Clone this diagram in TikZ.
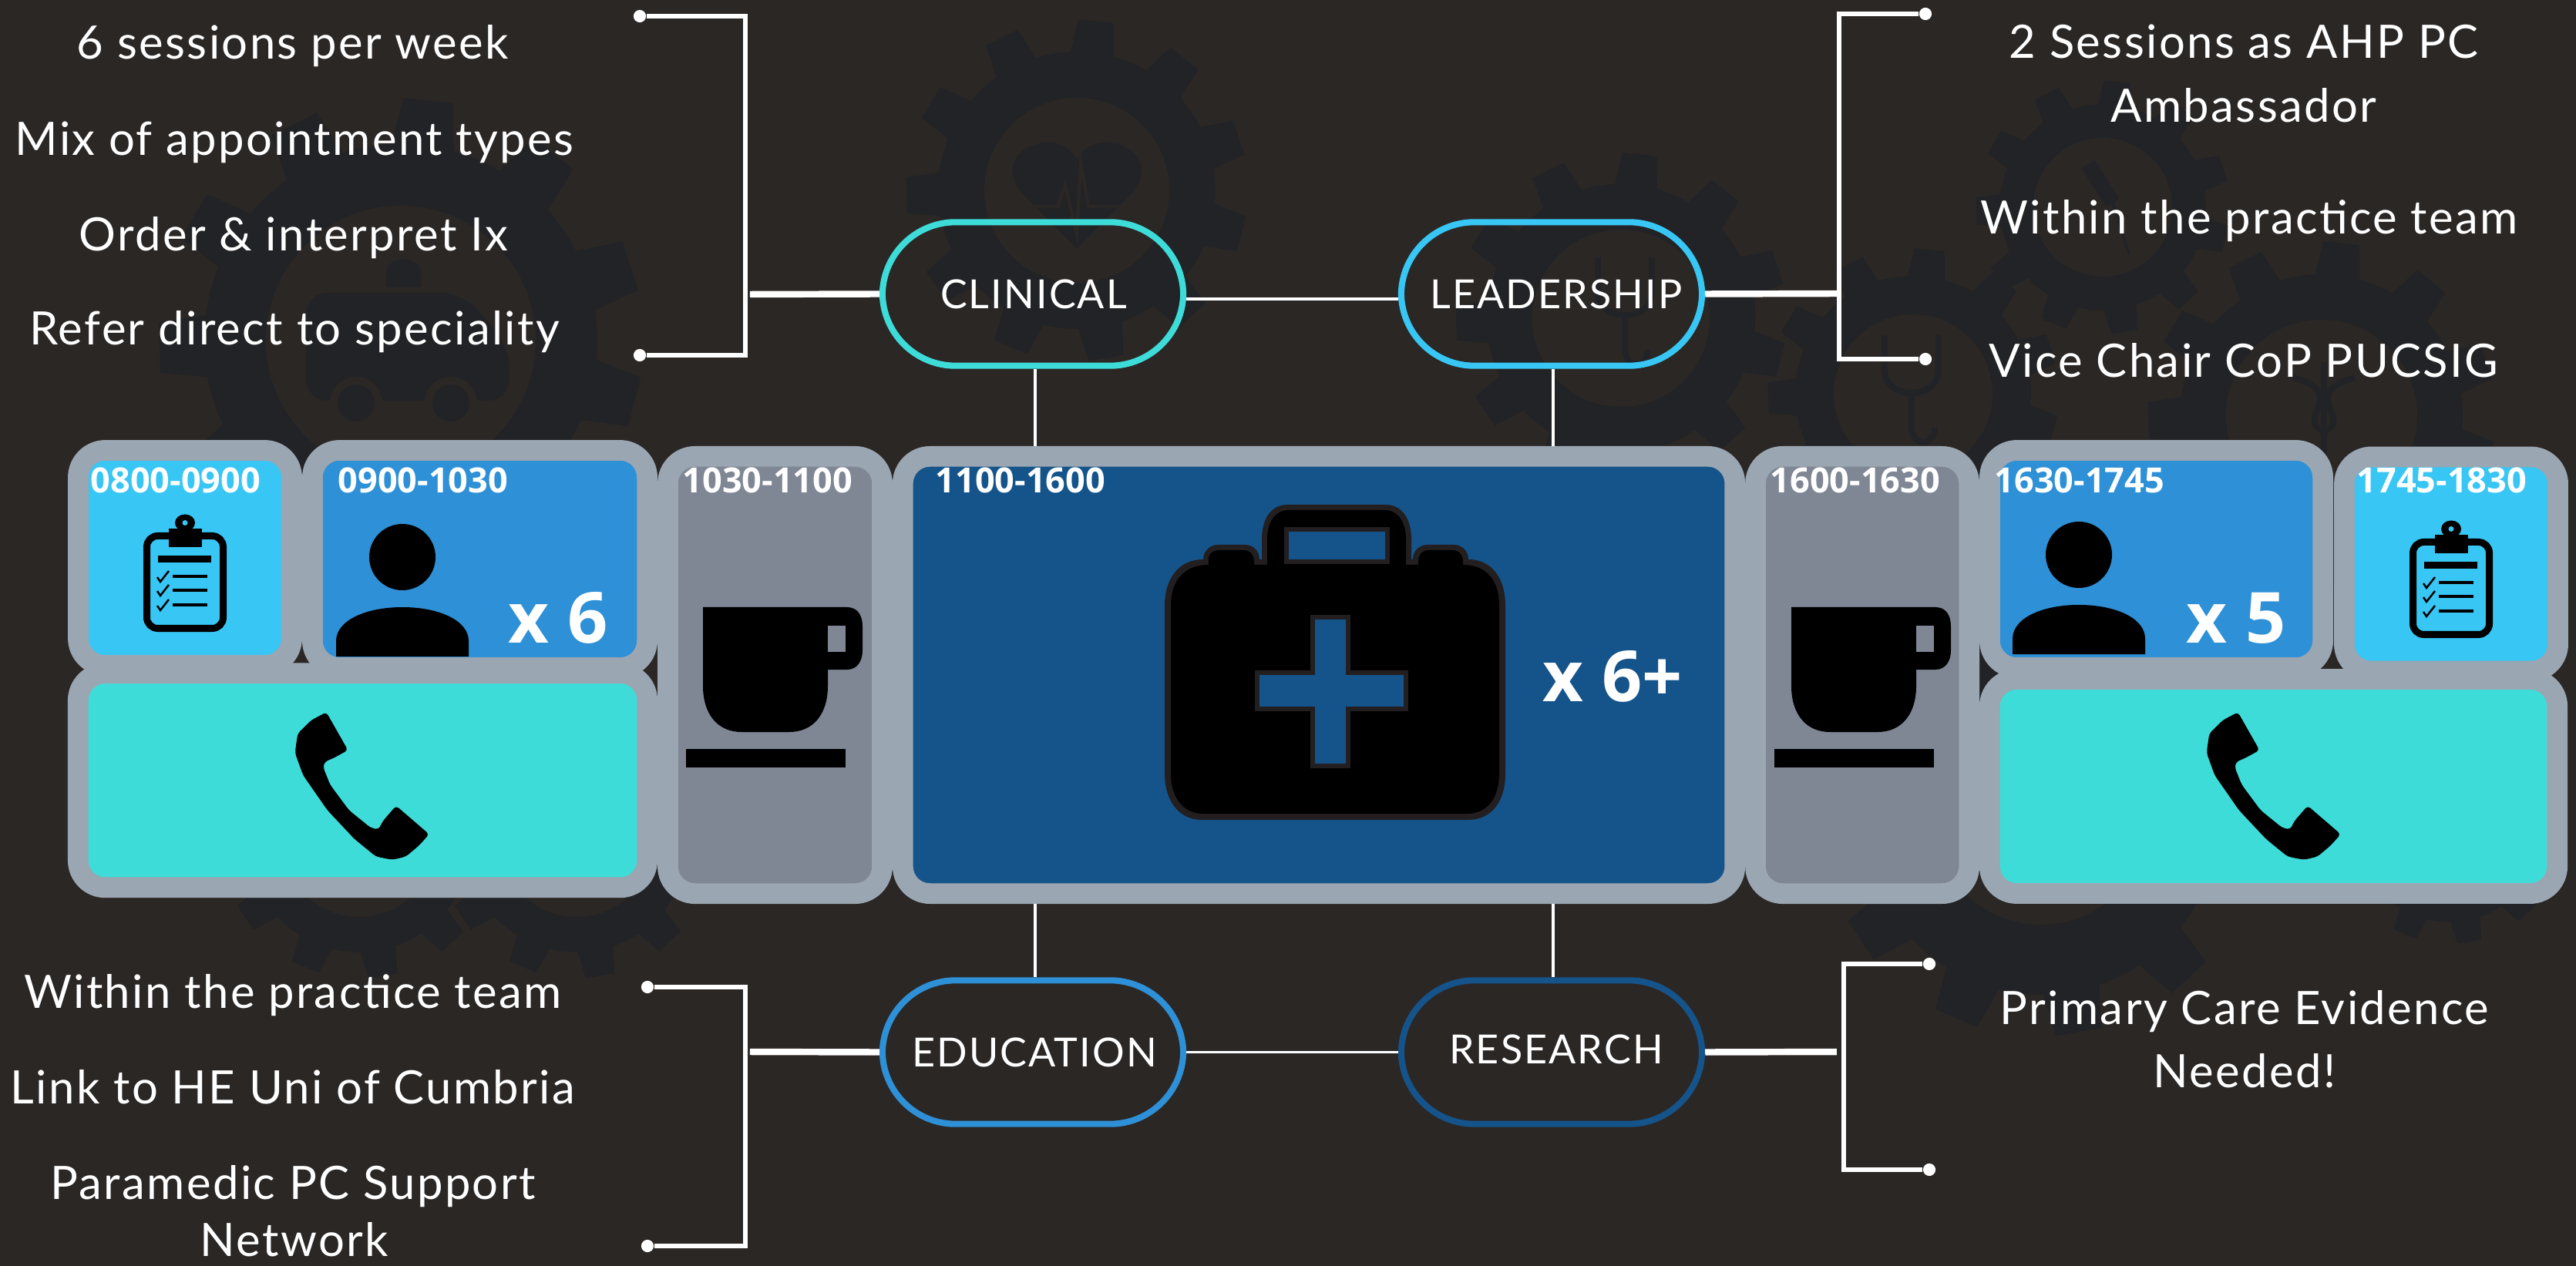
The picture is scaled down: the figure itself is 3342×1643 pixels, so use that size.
\documentclass[tikz,border=0pt]{standalone}
\usepackage{fontspec}
\setmainfont{Lato}
\newfontfamily\timefont{Open Sans}
\newfontfamily\listfont[LetterSpace=4]{Lato}
\usetikzlibrary{positioning}

\definecolor{bgdark}{HTML}{2B2725}
\definecolor{gearshade}{HTML}{222326}
\definecolor{framegrey}{HTML}{9AA6B2}
\definecolor{breakgrey}{HTML}{7F8694}
\definecolor{adminblue}{HTML}{38C6F4}
\definecolor{clinicblue}{HTML}{2E90D6}
\definecolor{phoneteal}{HTML}{3EDCD9}
\definecolor{visitblue}{HTML}{15548A}
\definecolor{caseline}{HTML}{231F20}

\tikzset{
  slot/.style={rectangle, rounded corners=10pt, draw=framegrey, line width=7.6pt, inner sep=0pt},
  pill/.style={rectangle, rounded corners=27pt, line width=2.3pt, minimum width=111pt, minimum height=53pt, inner sep=0pt},
  pilltext/.style={inner sep=0pt, text=white, font=\listfont\fontsize{14.8}{16}\selectfont},
  timelabel/.style={anchor=base west, inner sep=0pt, text=white, font=\timefont\bfseries\fontsize{12.8}{14}\selectfont},
  countlabel/.style={inner sep=0pt, text=white, font=\timefont\bfseries\fontsize{26}{28}\selectfont},
  listitem/.style={anchor=base, inner sep=0pt, text=white, font=\listfont\fontsize{17}{19}\selectfont},
  enddot/.style={circle, fill=white, inner sep=0pt, minimum size=4.6pt},
  bracket/.style={draw=white, line width=1.6pt},
  stub/.style={draw=white, line width=2.4pt},
  tie/.style={draw=white, line width=1.1pt},
  cogmark/.style={draw=gearshade, line width=2.2pt}
}

% background cog: centre, outer radius, hole radius
\newcommand{\cogwheel}[3]{
  \begin{scope}[shift={(#1)}]
    \fill[gearshade] (0,0) circle (0.81*#2);
    \foreach \k [evaluate=\k as \a using \k*32.73-83.5] in {0,...,10}
      \fill[gearshade] (\a-9.5:0.79*#2) -- (\a-6:#2) -- (\a+6:#2) -- (\a+9.5:0.79*#2) -- cycle;
    \fill[bgdark] (0,0) circle (#3);
  \end{scope}
}
\newcommand{\stethmark}[1]{
  \begin{scope}[shift={(#1)}]
    \draw[cogmark] (-35,-60) -- (-35,-15) .. controls (-35,25) and (35,25) .. (35,-15) -- (35,-60);
    \draw[cogmark] (0,15) -- (0,60) .. controls (0,85) and (30,85) .. (30,60);
  \end{scope}
}
\newcommand{\clipicon}[1]{
  \begin{scope}[shift={(#1)}]
    \draw[black, line width=2.56pt, rounded corners=4pt] (4.5,4.5) rectangle (103.5,124.5);
    \fill[black] (54,-12.5) ellipse [x radius=13, y radius=11];
    \fill[adminblue] (54,-12.5) circle (3.5);
    \fill[black] (33,-5) rectangle (76,19);
    \fill[black] (19,30) rectangle (88,39);
    \draw[black, line width=0.9pt] (38,57) -- (83,57);
    \draw[black, line width=0.9pt] (38,75) -- (83,75);
    \draw[black, line width=0.9pt] (38,94) -- (83,94);
    \draw[black, line width=0.7pt] (18,58) -- (22,64) -- (33,50);
    \draw[black, line width=0.7pt] (18,76) -- (22,82) -- (33,68);
    \draw[black, line width=0.7pt] (18,95) -- (22,101) -- (33,87);
  \end{scope}
}
\newcommand{\personicon}[1]{
  \begin{scope}[shift={(#1)}]
    \fill[black] (86,-65) circle (43);
    \fill[black] (0,64) -- (0,44) .. controls (0,17) and (39,0) .. (86,0) .. controls (133,0) and (172,17) .. (172,44) -- (172,64) -- cycle;
  \end{scope}
}
\newcommand{\mugicon}[1]{
  \begin{scope}[shift={(#1)}]
    \fill[black] (0,0) -- (0,102) .. controls (0,140) and (20,162) .. (50,162) -- (112,162) .. controls (142,162) and (162,140) .. (162,102) -- (162,0) -- cycle;
    \fill[black] (162,0) -- (187,0) .. controls (200,0) and (207,10) .. (207,25) -- (207,56) .. controls (207,70) and (200,81) .. (187,81) -- (162,81) -- cycle;
    \fill[breakgrey] (162,24) rectangle (185,58);
    \fill[black] (-22,184) rectangle (185,208);
  \end{scope}
}
\newcommand{\phoneicon}[1]{
  \begin{scope}[shift={(#1)}]
    \fill[black, rounded corners=1.2pt] (0,0) -- (28,49.3) -- (8.4,60) -- (-2.1,64.2) -- (-4.2,71.3) -- (4.9,94.1) -- (29.4,127.2) -- (57.5,150) -- (68,152.1) -- (72.9,141.7) -- (90.5,121.4) -- (133.3,158.3) -- (120.6,172.7) -- (103.1,187.4) -- (85.6,191.5) -- (64.5,187.4) -- (36.5,164.6) -- (1.4,127.2) -- (-30.2,81.7) -- (-40.7,52.7) -- (-37.2,27.7) -- (-19.7,10.4) -- cycle;
  \end{scope}
}

\begin{document}
\begin{tikzpicture}[x=0.01cm, y=-0.01cm]

\fill[bgdark] (0,0) rectangle (3342,1643);
\useasboundingbox (0,0) rectangle (3342,1643);

%Cogs
\cogwheel{1397,247}{222}{120}
\cogwheel{520,442}{315}{175}
\cogwheel{2103,413}{215}{115}
\cogwheel{2728,269}{165}{90}
\cogwheel{2482,511}{189}{103}
\cogwheel{3012,539}{226}{124}
\cogwheel{466,1090}{180}{100}
\cogwheel{748,1090}{180}{100}
\cogwheel{2648,1060}{285}{140}
\cogwheel{3178,1075}{150}{85}

%Cog marks
\fill[gearshade] (1397,323) -- (1325,250) .. controls (1295,210) and (1330,185) .. (1360,185) .. controls (1378,185) and (1392,195) .. (1397,208) .. controls (1402,195) and (1416,185) .. (1434,185) .. controls (1465,185) and (1500,210) .. (1469,250) -- cycle;
\draw[bgdark, line width=1.2pt] (1335,268) -- (1372,268) -- (1382,240) -- (1397,305) -- (1402,210) -- (1412,268) -- (1460,268);
\fill[gearshade, rounded corners=8pt] (397,380) -- (600,380) -- (661,450) -- (661,520) -- (397,520) -- cycle;
\fill[gearshade] (501,373) -- (501,355) .. controls (501,330) and (546,330) .. (546,355) -- (546,373) -- cycle;
\fill[bgdark] (462,523) circle (34);
\fill[gearshade] (462,523) circle (24);
\fill[bgdark] (585,523) circle (34);
\fill[gearshade] (585,523) circle (24);
\draw[gearshade, line width=5.7pt] (2709,213) -- (2741,263);
\draw[gearshade, line width=1pt] (2741,263) -- (2762,330);
\stethmark{2108,394}
\stethmark{2480,495}
\draw[cogmark] (3015,470) -- (3015,610);
\draw[cogmark] (2975,490) .. controls (3050,510) and (2975,545) .. (3015,560) .. controls (3055,545) and (2980,510) .. (3055,490);

%Slots
\node[slot, fill=breakgrey, minimum width=278*0.2845pt, minimum height=567*0.2845pt] (coffeeam) at (1005.5,876) {};
\node[slot, fill=visitblue, minimum width=1079*0.2845pt, minimum height=567*0.2845pt] (visits) [right=0pt of coffeeam] {};
\node[slot, fill=breakgrey, minimum width=277*0.2845pt, minimum height=567*0.2845pt] (coffeepm) [right=0pt of visits] {};
\node[slot, fill=adminblue, minimum width=277*0.2845pt, minimum height=279*0.2845pt] (adminam) at (240,724) {};
\node[slot, fill=clinicblue, minimum width=434*0.2845pt, minimum height=282*0.2845pt] (patientam) at (622.5,725.5) {};
\node[slot, fill=clinicblue, minimum width=432*0.2845pt, minimum height=282*0.2845pt] (patientpm) at (2797.5,725.5) {};
\node[slot, fill=adminblue, minimum width=277*0.2845pt, minimum height=278*0.2845pt] (adminpm) at (3180,732) {};
\node[slot, fill=phoneteal, minimum width=738*0.2845pt, minimum height=278*0.2845pt] (callsam) at (470.5,1012.75) {};
\node[slot, fill=phoneteal, minimum width=736*0.2845pt, minimum height=278*0.2845pt] (callspm) at (2949.5,1020.5) {};

%Times
\node[timelabel] (t0800) at (117,640) {0800-0900};
\node[timelabel] (t0900) at (438,640) {0900-1030};
\node[timelabel] (t1030) at (885,640) {1030-1100};
\node[timelabel] (t1100) at (1213,640) {1100-1600};
\node[timelabel] (t1600) at (2296,640) {1600-1630};
\node[timelabel] (t1630) at (2587,640) {1630-1745};
\node[timelabel] (t1745) at (3057,640) {1745-1830};
\node[countlabel] (countam) at (724,802) {x 6};
\node[countlabel] (countpm) at (2901,802) {x 5};
\node[countlabel] (countvisits) at (2092,878) {x 6+};

%Icons
\clipicon{186,691}
\clipicon{3126,699}
\personicon{436,788}
\personicon{2611,785}
\mugicon{912,788}
\mugicon{2324,788}
\phoneicon{423.4,924.3}
\phoneicon{2903.4,924.3}

%Case
\fill[caseline] (1511,1004) -- (1511,786) .. controls (1511,750) and (1530,726) .. (1561,726) .. controls (1561,715) and (1570,707) .. (1580,707) -- (1615,707) .. controls (1626,707) and (1634,715) .. (1634,726) -- (1637,726) -- (1637,700) .. controls (1637,672) and (1650,655) .. (1670,655) -- (1798,655) .. controls (1818,655) and (1831,672) .. (1831,700) -- (1831,726) -- (1833,726) .. controls (1833,715) and (1841,707) .. (1852,707) -- (1886,707) .. controls (1897,707) and (1905,715) .. (1905,726) .. controls (1935,726) and (1953,750) .. (1953,786) -- (1953,1004) .. controls (1953,1040) and (1935,1064) .. (1905,1064) -- (1559,1064) .. controls (1530,1064) and (1511,1040) .. (1511,1004) -- cycle;
\fill[black] (1519,1004) -- (1519,786) .. controls (1519,755) and (1535,733) .. (1568,733) .. controls (1566,720) and (1572,714) .. (1582,714) -- (1613,714) .. controls (1622,714) and (1628,720) .. (1627,733) -- (1644,733) -- (1644,700) .. controls (1644,678) and (1654,662) .. (1672,662) -- (1796,662) .. controls (1814,662) and (1824,678) .. (1824,700) -- (1824,733) -- (1840,733) .. controls (1839,720) and (1845,714) .. (1854,714) -- (1884,714) .. controls (1893,714) and (1899,720) .. (1898,733) .. controls (1930,733) and (1945,755) .. (1945,786) -- (1945,1004) .. controls (1945,1035) and (1930,1056) .. (1903,1056) -- (1561,1056) .. controls (1535,1056) and (1519,1035) .. (1519,1004) -- cycle;
\draw[caseline, fill=visitblue, line width=1.8pt] (1669,687) rectangle (1800,729);
\draw[caseline, fill=visitblue, line width=1.8pt] (1703,801) -- (1749,801) -- (1749,873) -- (1824,873) -- (1824,920) -- (1749,920) -- (1749,994) -- (1703,994) -- (1703,920) -- (1631,920) -- (1631,873) -- (1703,873) -- cycle;

%Pills
\node[pill, draw=phoneteal] (clinical) at (1340,381.5) {};
\node[pill, draw=adminblue] (leadership) at (2013,381.5) {};
\node[pill, draw=clinicblue] (education) at (1340,1365.5) {};
\node[pill, draw=visitblue] (research) at (2013,1365.5) {};
\node[pilltext] (clinicaltext) at (1341,382) {CLINICAL};
\node[pilltext] (leadershiptext) at (2019,382) {LEADERSHIP};
\node[pilltext] (educationtext) at (1342,1366) {EDUCATION};
\node[pilltext] (researchtext) at (2019,1362) {RESEARCH};

%Items
\node[listitem] (clin1) at (380,77) {6 sessions per week};
\node[listitem] (clin2) at (382,202) {Mix of appointment types};
\node[listitem] (clin3) at (381,326) {Order \& interpret Ix};
\node[listitem] (clin4) at (382,448) {Refer direct to speciality};
\node[listitem] (lead1) at (2911,76) {2 Sessions as AHP PC};
\node[listitem] (lead2) at (2911,159) {Ambassador};
\node[listitem] (lead3) at (2918,304) {Within the practice team};
\node[listitem] (lead4) at (2911,490) {Vice Chair CoP PUCSIG};
\node[listitem] (edu1) at (380,1308) {Within the practice team};
\node[listitem] (edu2) at (380,1432) {Link to HE Uni of Cumbria};
\node[listitem] (edu3) at (380,1556) {Paramedic PC Support};
\node[listitem] (edu4) at (382,1630) {Network};
\node[listitem] (res1) at (2912,1329) {Primary Care Evidence};
\node[listitem] (res2) at (2912,1411) {Needed!};

%Bracket ends
\node[enddot] (clintop) at (830,21) {};
\node[enddot] (clinbot) at (830,461) {};
\node[enddot] (leadtop) at (2498,18) {};
\node[enddot] (leadbot) at (2498,466) {};
\node[enddot] (edutop) at (840,1281) {};
\node[enddot] (edubot) at (840,1617) {};
\node[enddot] (restop) at (2503,1251) {};
\node[enddot] (resbot) at (2503,1518) {};
\coordinate (clinspine) at (967,382);
\coordinate (leadspine) at (2386,381);
\coordinate (eduspine) at (967,1365);
\coordinate (resspine) at (2392,1365);

%Lines
\draw[bracket] (clintop) -- (clintop -| clinspine) -- (clinbot -| clinspine) -- (clinbot);
\draw[bracket] (leadtop) -- (leadtop -| leadspine) -- (leadbot -| leadspine) -- (leadbot);
\draw[bracket] (edutop) -- (edutop -| eduspine) -- (edubot -| eduspine) -- (edubot);
\draw[bracket] (restop) -- (restop -| resspine) -- (resbot -| resspine) -- (resbot);

\draw[stub, shorten <=1.7pt] (clinspine) -- (clinical.west);
\draw[stub] (leadership.east) -- (leadspine);
\draw[stub, shorten <=1.7pt] (eduspine) -- (education.west);
\draw[stub, shorten >=2.6pt] (research.east) -- (resspine);

\draw[tie] ([yshift=-1.8pt]clinical.east) -- ([yshift=-1.8pt]leadership.west);
\draw[tie] (education.east) -- (research.west);
\draw[tie] ([xshift=0.9pt]clinical.south) -- ([xshift=0.9pt]clinical.south |- visits.north);
\draw[tie] ([xshift=0.6pt]leadership.south) -- ([xshift=0.6pt]leadership.south |- visits.north);
\draw[tie] ([xshift=0.9pt]visits.south -| education) -- ([xshift=0.9pt]education.north);
\draw[tie] ([xshift=0.6pt]visits.south -| research) -- ([xshift=0.6pt]research.north);

\end{tikzpicture}
\end{document}
